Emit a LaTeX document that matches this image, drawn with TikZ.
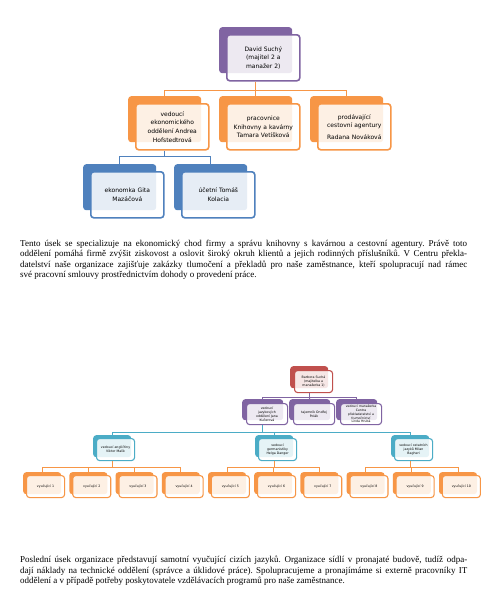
\documentclass[tikz,border=0pt]{standalone}
\usepackage{fontspec}
\setmainfont{Liberation Serif}
\newfontfamily\boxfont{DejaVu Sans}
\frenchspacing
\definecolor{cPurple}{HTML}{8064A2}
\definecolor{cOrange}{HTML}{F79646}
\definecolor{cBlue}{HTML}{4F81BD}
\definecolor{cRed}{HTML}{C0504D}
\definecolor{cTeal}{HTML}{4BACC6}
\tikzset{
  backbox/.style={fill=#1, draw=none, rounded corners=3pt, anchor=north west, inner sep=0pt},
  frontbox/.style={draw=#1, fill=white, fill opacity=0.86, text opacity=1, rounded corners=3pt,
    anchor=north west, inner sep=0pt, align=center},
  bigfont/.style={font=\boxfont\fontsize{6}{8.6}\selectfont, line width=1.6pt},
  smallfont/.style={font=\boxfont\fontsize{3.2}{4.2}\selectfont, line width=1.1pt},
  tightfont/.style={font=\boxfont\fontsize{3.1}{3.8}\selectfont, line width=1.1pt},
  conn/.style={draw=#1, line width=1.5pt},
  thinconn/.style={draw=#1, line width=1pt},
  para/.style={anchor=north west, inner sep=0pt, align=left, font=\fontsize{9}{10.3}\selectfont},
}
\newcommand\orgpair[9]{%
  \node[backbox=#7, minimum width=#4pt, minimum height=#5pt] (#1B) at (#2,#3) {};
  \node[frontbox=#7, #8, minimum width=#4pt, minimum height=#5pt, text width={#4pt-3pt}]
    (#1) at ([shift={(#6,#6)}]#1B.north west) {#9};
}
\begin{document}
\begin{tikzpicture}[x=1pt,y=-1pt]
\path[use as bounding box, fill=white] (0,0) rectangle (487,598);

% ---------- first chart ----------
\orgpair{dav}{219}{27}{73}{46}{7}{cPurple}{bigfont}{David Suchý\\(majitel 2 a\\manažer 2)}
\orgpair{ca}{128}{96}{73}{46}{7}{cOrange}{bigfont}{vedoucí\\ekonomického\\oddělení Andrea\\Hofstedtrová}
\orgpair{cb}{219}{96}{73}{46}{7}{cOrange}{bigfont}{pracovnice\\Knihovny a kavárny\\Tamara Vetíšková}
\orgpair{cc}{310}{96}{73}{46}{7}{cOrange}{bigfont}{prodávající\\cestovní agentury\\[3pt]Radana Nováková}
\orgpair{ea}{83}{164}{73}{46}{7}{cBlue}{bigfont}{ekonomka Gita\\Mazáčová}
\orgpair{eb}{174}{164}{73}{46}{7}{cBlue}{bigfont}{účetní Tomáš\\Kolacia}

\draw[conn=cOrange] (davB |- dav.south) -- ++(0,9) coordinate (j1);
\draw[conn=cOrange] (caB.north) |- (j1) -| (ccB.north);
\draw[conn=cOrange] (j1) -- (cbB.north);
\draw[conn=cBlue] (caB |- ca.south) -- ++(0,6) coordinate (j2);
\draw[conn=cBlue] (eaB.north) |- (j2) -| (ebB.north);

% ---------- first paragraph ----------
\node[para] (p1) at (20,240) {%
\makebox[447pt][s]{Tento úsek se specializuje na ekonomický chod firmy a správu knihovny s kavárnou a cestovní agentury. Právě toto}\\
\makebox[447pt][s]{oddělení pomáhá firmě zvýšit ziskovost a oslovit široký okruh klientů a jejich rodinných příslušníků. V Centru překla-}\\
\makebox[447pt][s]{datelství naše organizace zajišťuje zakázky tlumočení a překladů pro naše zaměstnance, kteří spolupracují nad rámec}\\
své pracovní smlouvy prostřednictvím dohody o provedení práce.};

% ---------- second chart ----------
\orgpair{bs}{290}{366}{38}{22}{4}{cRed}{smallfont}{Barbora Suchá\\(majitelka a\\manažerka 1)}
\orgpair{pa}{242}{399}{41}{21}{4}{cPurple}{smallfont}{vedoucí\\jazykových\\oddělení Jana\\Kučerová}
\orgpair{pb}{289}{399}{41}{21}{4}{cPurple}{smallfont}{tajemník Ondřej\\Polák}
\orgpair{pc}{336}{399}{41}{21}{4}{cPurple}{tightfont}{vedoucí manažerka\\Centra\\překladatelství a\\tlumočnictví\\Linda Hrubá}
\orgpair{ta}{93}{435}{38}{22}{3}{cTeal}{smallfont}{vedoucí angličtiny\\Viktor Malík}
\orgpair{tb}{255}{435}{38}{22}{3}{cTeal}{smallfont}{vedoucí\\germanistiky\\Helga Danger}
\orgpair{tc}{391}{435}{38}{22}{3}{cTeal}{smallfont}{vedoucí ostatních\\jazyků Milan\\Bagheri}
\foreach \i in {1,...,10}{
  \pgfmathsetmacro\lx{23+46.2*(\i-1)}
  \orgpair{l\i}{\lx}{472}{38}{22}{3}{cOrange}{smallfont}{vyučující \i}
}

\draw[thinconn=cPurple] (bsB |- bs.south) -- ++(0,4) coordinate (k1);
\draw[thinconn=cPurple] (paB.north) |- (k1) -| (pcB.north);
\draw[thinconn=cPurple] (k1) -- (pbB.north);

\draw[thinconn=cTeal] (paB |- pa.south) -- ++(0,7) coordinate (k2);
\draw[thinconn=cTeal] (taB.north) |- (k2) -| (tcB.north);
\draw[thinconn=cTeal] (tbB.north) -- (tbB.north |- k2);

\draw[thinconn=cOrange] (taB |- ta.south) -- ++(0,6) coordinate (k3);
\draw[thinconn=cOrange] (l1B.north) |- (k3) -| (l4B.north);
\draw[thinconn=cOrange] (l2B.north) -- (l2B.north |- k3);
\draw[thinconn=cOrange] (l3B.north) -- (l3B.north |- k3);
\draw[thinconn=cOrange] (tbB |- tb.south) -- ++(0,6) coordinate (k4);
\draw[thinconn=cOrange] (l5B.north) |- (k4) -| (l7B.north);
\draw[thinconn=cOrange] (l6B.north) -- (l6B.north |- k4);
\draw[thinconn=cOrange] (tcB |- tc.south) -- ++(0,6) coordinate (k5);
\draw[thinconn=cOrange] (l8B.north) |- (k5) -| (l10B.north);
\draw[thinconn=cOrange] (l9B.north) -- (l9B.north |- k5);

% ---------- second paragraph ----------
\node[para] (p2) at (20,556) {%
\makebox[447pt][s]{Poslední úsek organizace představují samotní vyučující cizích jazyků. Organizace sídlí v pronajaté budově, tudíž odpa-}\\
\makebox[447pt][s]{dají náklady na technické oddělení (správce a úklidové práce). Spolupracujeme a pronajímáme si externě pracovníky IT}\\
oddělení a v případě potřeby poskytovatele vzdělávacích programů pro naše zaměstnance.};
\end{tikzpicture}
\end{document}
